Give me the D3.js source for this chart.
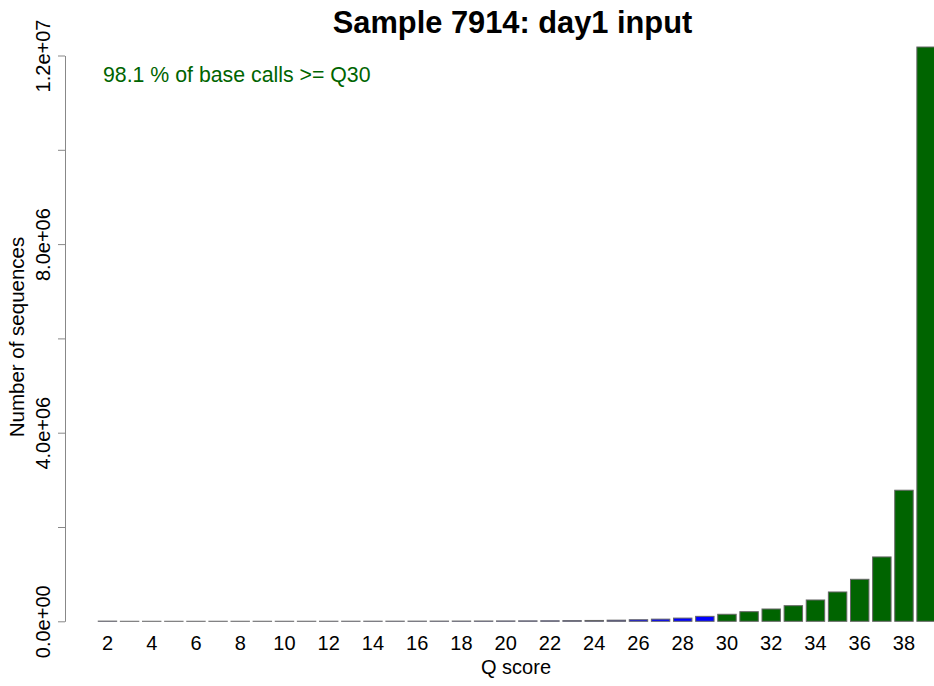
<!DOCTYPE html><html lang="en"><head><meta charset="utf-8"><meta name="viewport" content="width=device-width">
<title>Sample 7914: day1 input</title>
<style>
body {
	margin: 0;
	background: #fff;
}
svg text {
	font-family: "Liberation Sans", Arial, Helvetica, sans-serif;
}
</style>
<script src="https://cdn.jsdelivr.net/npm/d3@7"></script>
<script>
// Q score bins and number of sequences
const qscores = [2, 3, 4, 5, 6, 7, 8, 9, 10, 11, 12, 13, 14, 15, 16, 17, 18, 19, 20,
	21, 22, 23, 24, 25, 26, 27, 28, 29, 30, 31, 32, 33, 34, 35, 36, 37, 38, 39];
const counts = [4000, 500, 600, 700, 800, 900, 1000, 1100, 1300, 1500, 1800, 2100, 2500, 3000, 3600, 4300, 5200, 6300, 7600,
	9200, 11000, 14000, 18000, 24000, 33000, 46000, 68000, 105000, 149000, 204000, 261000, 331000, 452000, 622000, 891000, 1365000, 2780000, 12180000];
const yTicks = [0, 2e6, 4e6, 6e6, 8e6, 1e7, 1.2e7];
const yLabels = [0, 4e6, 8e6, 1.2e7];
const xLabels = [2, 4, 6, 8, 10, 12, 14, 16, 18, 20, 22, 24, 26, 28, 30, 32, 34, 36, 38];
const passQ = 30;
const title = "Sample 7914: day1 input";
const note = "98.1 % of base calls >= Q30";

window.onload = () => {
	const W = 934, H = 686;
	const data = qscores.map((q, i) => ({ q, n: counts[i] }));

	const svg = d3.select("#chart")
		.append("svg")
			.attr("width", W)
			.attr("height", H);

	// scales (bars continue past the right edge like the original)
	const x = d3.scaleBand()
		.domain(qscores)
		.range([96.4, 96.4 + 22.125 * qscores.length])
		.paddingInner(1 / 6)
		.paddingOuter(1 / 12);
	const y = d3.scaleLinear()
		.domain([0, 1.2e7])
		.range([621.3, 55.5]);

	// R style 0.0e+00 labels
	const sci = v => {
		if (v === 0) return "0.0e+00";
		const e = Math.floor(Math.log10(Math.abs(v)));
		const m = (v / Math.pow(10, e)).toFixed(1);
		return `${m}e${e < 0 ? "-" : "+"}${String(Math.abs(e)).padStart(2, "0")}`;
	};

	// bars
	svg.append("g")
		.selectAll("rect")
		.data(data)
		.join("rect")
			.attr("x", d => x(d.q))
			.attr("width", x.bandwidth())
			.attr("y", d => y(d.n))
			.attr("height", d => y(0) - y(d.n))
			.attr("fill", d => d.q >= passQ ? "#006400" : "#0000ff")
			.attr("stroke", "#666")
			.attr("stroke-width", 1);

	// y axis
	const yAxis = svg.append("g")
		.attr("transform", "translate(65, 0)")
		.call(d3.axisLeft(y)
			.tickValues(yTicks)
			.tickSize(7)
			.tickSizeOuter(0)
			.tickFormat(d => yLabels.includes(d) ? sci(d) : ""));
	yAxis.select(".domain").attr("stroke", "#888");
	yAxis.selectAll(".tick line").attr("stroke", "#888");
	yAxis.selectAll(".tick text")
		.attr("transform", "rotate(-90)")
		.attr("x", 0)
		.attr("y", -15)
		.attr("dy", 0)
		.attr("text-anchor", "middle")
		.attr("fill", "#000")
		.style("font-size", "20px");

	// x labels (only every other one fits)
	svg.append("g")
		.selectAll("text")
		.data(xLabels)
		.join("text")
			.attr("x", d => x(d) + x.bandwidth() / 2)
			.attr("y", 650)
			.attr("text-anchor", "middle")
			.style("font-size", "20px")
			.text(d => d);

	svg.append("text")
		.attr("x", 516)
		.attr("y", 674)
		.attr("text-anchor", "middle")
		.style("font-size", "20px")
		.text("Q score");

	svg.append("text")
		.attr("transform", "translate(24, 337) rotate(-90)")
		.attr("text-anchor", "middle")
		.style("font-size", "20.5px")
		.text("Number of sequences");

	svg.append("text")
		.attr("x", 512.5)
		.attr("y", 33)
		.attr("text-anchor", "middle")
		.style("font-size", "30.8px")
		.style("font-weight", "bold")
		.text(title);

	svg.append("text")
		.attr("x", 103)
		.attr("y", 82)
		.attr("fill", "#006400")
		.style("font-size", "21.3px")
		.text(note);
};
</script>
</head>
<body>
<div id="chart"></div>
</body>
</html>
